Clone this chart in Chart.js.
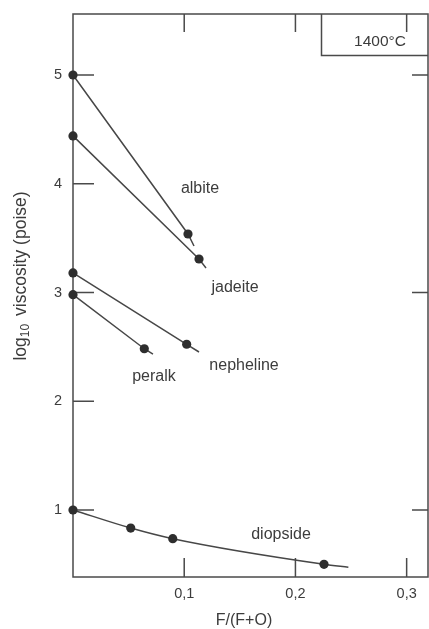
<!DOCTYPE html>
<html><head><meta charset="utf-8">
<style>html,body{margin:0;padding:0;background:#fff;overflow:hidden;} canvas{display:block;}</style>
<script src="https://cdn.jsdelivr.net/npm/chart.js@4.4.0/dist/chart.umd.min.js"></script>
</head><body>
<canvas id="c" width="429" height="629"></canvas>
<script>
// ---- data ----
const albiteX    = [0, 0.1034, 0.1088];
const albiteY    = [5.00, 3.538, 3.428];
const jadeiteX   = [0, 0.1133, 0.1196];
const jadeiteY   = [4.44, 3.308, 3.225];
const nephelineX = [0, 0.1022, 0.1133];
const nephelineY = [3.18, 2.524, 2.453];
const peralkX    = [0, 0.0641, 0.0719];
const peralkY    = [2.98, 2.483, 2.433];
const diopsideX  = [0, 0.0519, 0.0897, 0.2257, 0.2476];
const diopsideY  = [1.00, 0.834, 0.736, 0.501, 0.474];
const seriesNames = ['albite', 'jadeite', 'nepheline', 'peralk', 'diopside'];
const xTickValues = [0.1, 0.2, 0.3];
const xTickLabels = ['0,1', '0,2', '0,3'];
const yTickValues = [1, 2, 3, 4, 5];
const yRightTickValues = [1, 3, 5];
const tempLabel = '1400°C';

const seriesX = [albiteX, jadeiteX, nephelineX, peralkX, diopsideX];
const seriesY = [albiteY, jadeiteY, nephelineY, peralkY, diopsideY];

const INK = '#3c3c3c';
const FONT = '"Liberation Sans", Arial, Helvetica, sans-serif';

const datasets = seriesNames.map((name, i) => ({
  label: name,
  data: seriesX[i].map((x, j) => ({x, y: seriesY[i][j]})),
  showLine: true,
  borderColor: '#474747',
  borderWidth: 1.5,
  backgroundColor: '#2e2e2e',
  pointBorderWidth: 0,
  pointRadius: ctx => (ctx.dataIndex === seriesX[i].length - 1 ? 0 : 4.6),
  pointHoverRadius: 0,
  tension: name === 'diopside' ? 0.25 : 0,
  cubicInterpolationMode: name === 'diopside' ? 'monotone' : 'default',
  clip: false
}));

// label anchors (data units)
const labelAnchors = {
  albite:    [0.1142, 3.952],
  jadeite:   [0.1457, 3.041],
  nepheline: [0.1538, 2.324],
  peralk:    [0.0728, 2.223],
  diopside:  [0.1870, 0.770]
};

const zeroPad = s => { s.paddingTop = 0; s.paddingBottom = 0; s.paddingLeft = 0; s.paddingRight = 0; };

const frame = {
  id: 'frame',
  beforeDatasetsDraw(chart) {
    const {ctx, chartArea: a, scales: {x, y}} = chart;
    ctx.save();
    ctx.strokeStyle = '#4a4a4a';
    ctx.lineWidth = 1.5;
    ctx.strokeRect(a.left, a.top, a.right - a.left, a.bottom - a.top);
    ctx.beginPath();
    yTickValues.forEach(v => { const p = y.getPixelForValue(v); ctx.moveTo(a.left, p); ctx.lineTo(a.left + 21, p); });
    yRightTickValues.forEach(v => { const p = y.getPixelForValue(v); ctx.moveTo(a.right, p); ctx.lineTo(a.right - 16, p); });
    xTickValues.forEach(v => {
      const p = x.getPixelForValue(v);
      ctx.moveTo(p, a.bottom); ctx.lineTo(p, a.bottom - 19);
      ctx.moveTo(p, a.top); ctx.lineTo(p, a.top + 18);
    });
    ctx.moveTo(321.5, a.top); ctx.lineTo(321.5, 55.5); ctx.lineTo(a.right, 55.5);
    ctx.stroke();
    ctx.restore();
  },
  afterDatasetsDraw(chart) {
    const {ctx, scales: {x, y}} = chart;
    ctx.save();
    ctx.fillStyle = INK;
    ctx.textBaseline = 'middle';
    ctx.textAlign = 'center';
    ctx.font = '16px ' + FONT;
    seriesNames.forEach(n => {
      const [dx, dy] = labelAnchors[n];
      ctx.fillText(n, x.getPixelForValue(dx), y.getPixelForValue(dy));
    });
    ctx.font = '15.5px ' + FONT;
    ctx.fillText(tempLabel, 380, 42);
    ctx.font = '16px ' + FONT;
    ctx.fillText('F/(F+O)', 244, 621);
    ctx.translate(21, 276);
    ctx.rotate(-Math.PI / 2);
    const big = '17.5px ' + FONT, small = '12px ' + FONT;
    ctx.font = big; const w1 = ctx.measureText('log').width;
    ctx.font = small; const w2 = ctx.measureText('10').width;
    ctx.font = big; const w3 = ctx.measureText('viscosity (poise)').width;
    const gap = 8;
    let sx = -(w1 + w2 + gap + w3) / 2;
    ctx.textAlign = 'left';
    ctx.font = big; ctx.fillText('log', sx, 0); sx += w1;
    ctx.font = small; ctx.fillText('10', sx, 5); sx += w2 + gap;
    ctx.font = big; ctx.fillText('viscosity (poise)', sx, 0);
    ctx.restore();
  }
};

new Chart(document.getElementById('c'), {
  type: 'scatter',
  data: {datasets},
  options: {
    responsive: false,
    animation: false,
    devicePixelRatio: 1,
    layout: {autoPadding: false, padding: {top: 14, right: 1, left: 0, bottom: 0}},
    plugins: {legend: {display: false}, tooltip: {enabled: false}},
    events: [],
    scales: {
      x: {
        type: 'linear', min: 0, max: 0.3192,
        afterFit: s => { s.height = 52; zeroPad(s); },
        afterBuildTicks: s => { s.ticks = xTickValues.map(v => ({value: v})); },
        grid: {display: false, drawTicks: false},
        border: {display: false},
        ticks: {
          padding: 8,
          color: INK,
          font: {family: FONT, size: 14.5},
          callback: v => { const k = xTickValues.findIndex(t => Math.abs(t - v) < 1e-9); return k >= 0 ? xTickLabels[k] : ''; }
        }
      },
      y: {
        type: 'linear', min: 0.384, max: 5.561,
        afterFit: s => { s.width = 73; zeroPad(s); },
        afterBuildTicks: s => { s.ticks = yTickValues.map(v => ({value: v})); },
        grid: {display: false, drawTicks: false},
        border: {display: false},
        ticks: {
          padding: 11,
          color: INK,
          font: {family: FONT, size: 14.5},
          callback: v => String(v)
        }
      }
    }
  },
  plugins: [frame]
});
</script>
</body></html>
